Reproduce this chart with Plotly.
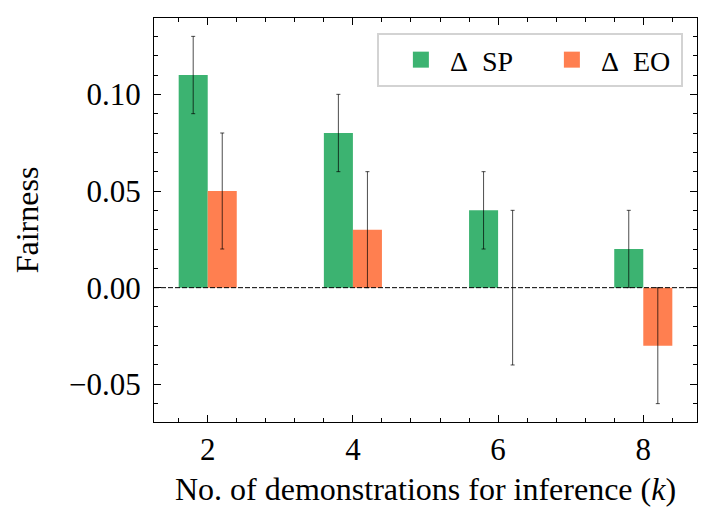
import plotly.graph_objects as go

k = [2, 4, 6, 8]
sp = [0.11, 0.08, 0.04, 0.02]
sp_err = [0.02, 0.02, 0.02, 0.02]
eo = [0.05, 0.03, 0.00, -0.03]
eo_err = [0.03, 0.03, 0.04, 0.03]

names = ["Δ\u00a0 SP", "Δ\u00a0 EO"]
colors = ["#3cb371", "#ff7f50"]

FONT = "Liberation Serif"
err_style = dict(type="data", visible=True, color="rgba(0,0,0,0.7)", thickness=1, width=2)

fig = go.Figure()
for vals, errs, name, col in [(sp, sp_err, names[0], colors[0]), (eo, eo_err, names[1], colors[1])]:
    fig.add_trace(go.Bar(
        x=k, y=vals, name=name, showlegend=False,
        marker=dict(color=col, line=dict(width=0)),
        error_y=dict(array=errs, **err_style),
    ))

# legend-only entries so the swatches are bigger squares
for name, col in zip(names, colors):
    fig.add_trace(go.Scatter(
        x=[None], y=[None], mode="markers", name=name,
        marker=dict(symbol="square", size=16, color=col),
    ))

# zero reference
fig.add_hline(y=0, line=dict(color="black", width=1, dash="5px,2px"))

axis_common = dict(
    showline=True, linecolor="black", linewidth=1, mirror="allticks",
    ticks="inside", ticklen=7, tickwidth=1, tickcolor="black",
    showgrid=False, zeroline=False, automargin=False,
    tickfont=dict(family=FONT, size=31, color="black"),
)
minor_common = dict(ticks="inside", ticklen=4, tickwidth=1, tickcolor="black", showgrid=False)

# page body adds an 8px offset, so the figure is 708x519
fig.update_layout(
    width=708, height=519,
    margin=dict(l=146, r=19, t=10, b=105),
    paper_bgcolor="white", plot_bgcolor="white",
    barmode="group", bargap=0.6, bargroupgap=0,
    font=dict(family=FONT, color="black"),
    xaxis=dict(
        range=[1.26, 8.74], tickmode="linear", tick0=0, dtick=2,
        minor=dict(dtick=0.4, tick0=0, **minor_common),
        title=dict(text="No. of demonstrations for inference (<i>k</i>)",
                   font=dict(family=FONT, size=32), standoff=11),
        ticklabelstandoff=0,
        **axis_common,
    ),
    yaxis=dict(
        range=[-0.0695, 0.1395], tickmode="linear", tick0=0, dtick=0.05, tickformat=".2f",
        minor=dict(dtick=0.01, tick0=0, **minor_common),
        title=dict(text="Fairness", font=dict(family=FONT, size=32), standoff=20),
        ticklabelstandoff=6,
        **axis_common,
    ),
    legend=dict(
        orientation="h", x=0.974, y=0.963, xanchor="right", yanchor="top",
        bgcolor="white", bordercolor="#d3d3d3", borderwidth=2,
        font=dict(family=FONT, size=28, color="black"),
        entrywidth=75, itemwidth=48, indentation=13,
    ),
)

fig.write_html("out.html")
